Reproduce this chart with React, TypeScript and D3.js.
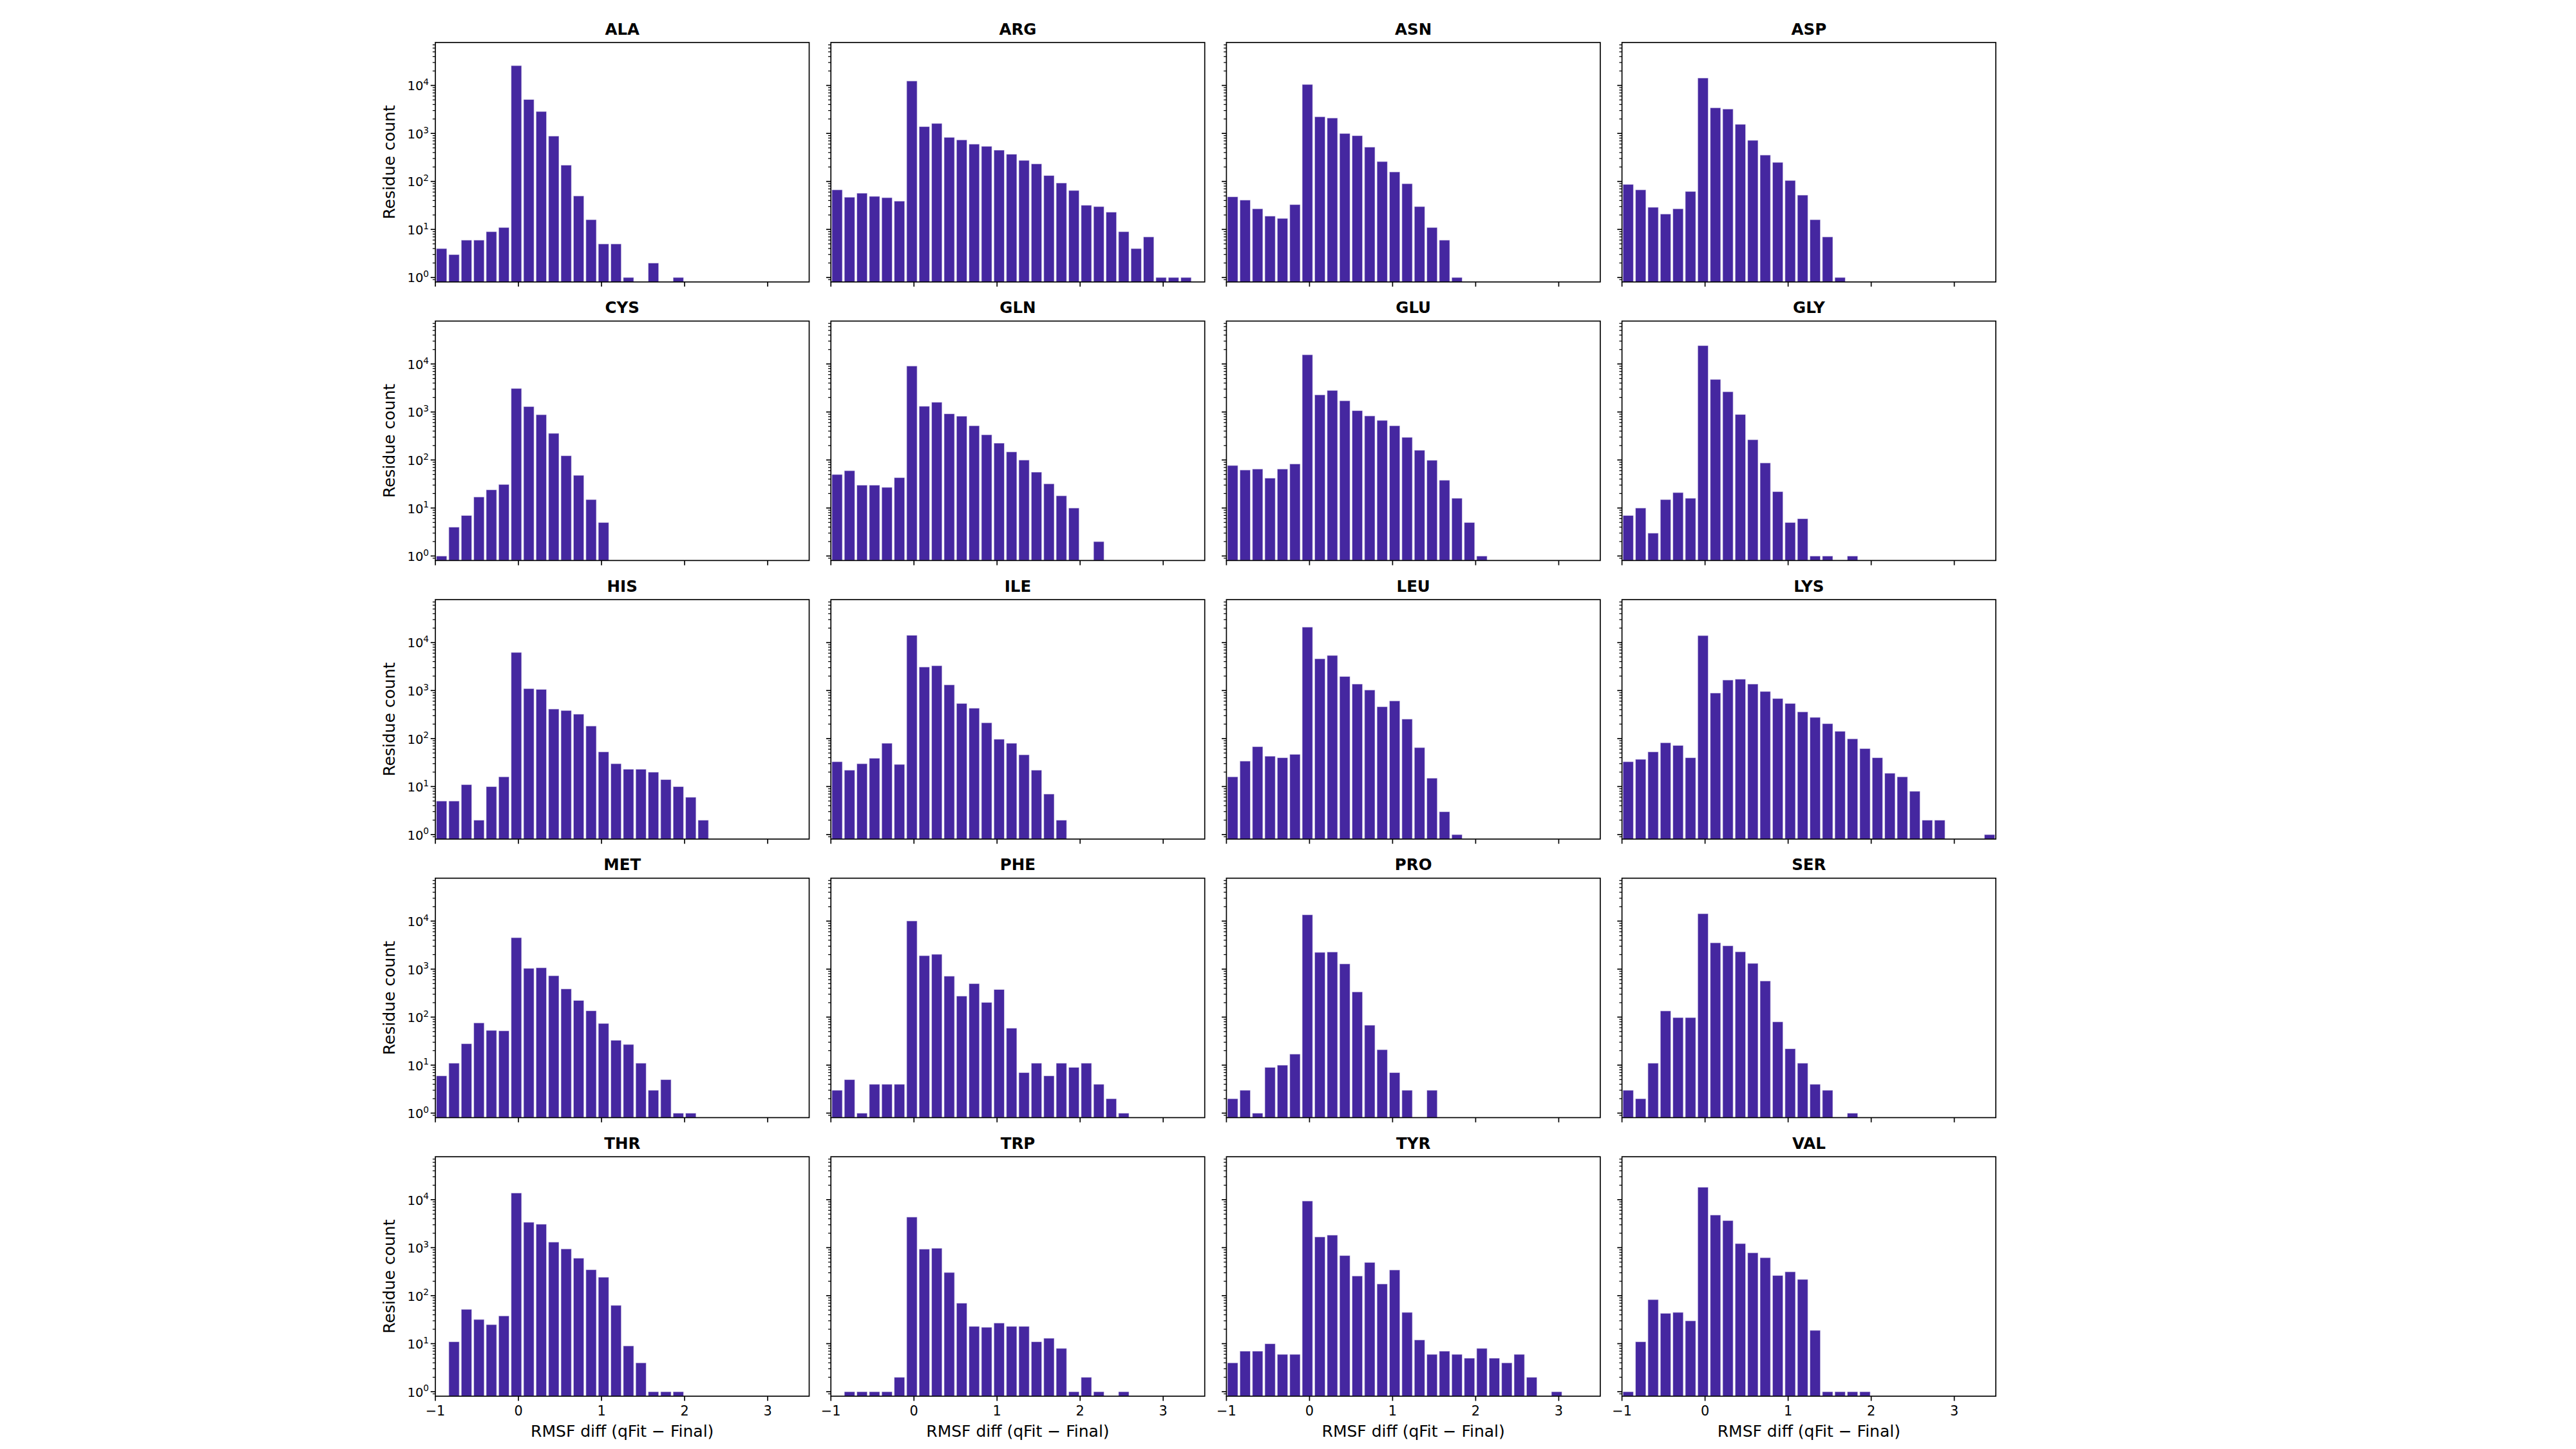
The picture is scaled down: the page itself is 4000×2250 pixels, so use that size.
import * as d3 from 'd3'

// Histogram of RMSF differences per residue type (30 bins, width 0.15, from -1 to 3.5)
const residues = ['ALA', 'ARG', 'ASN', 'ASP', 'CYS', 'GLN', 'GLU', 'GLY', 'HIS', 'ILE',
  'LEU', 'LYS', 'MET', 'PHE', 'PRO', 'SER', 'THR', 'TRP', 'TYR', 'VAL']

const binLefts = [-1, -0.85, -0.7, -0.55, -0.4, -0.25, -0.1, 0.05, 0.2, 0.35,
  0.5, 0.65, 0.8, 0.95, 1.1, 1.25, 1.4, 1.55, 1.7, 1.85,
  2, 2.15, 2.3, 2.45, 2.6, 2.75, 2.9, 3.05, 3.2, 3.35]
const binWidth = 0.15

const ala = [4, 3, 6, 6, 9, 11, 25900, 5100, 2870, 883, 219, 50, 16, 5, 5, 1, 0, 2, 0, 1, 0, 0, 0, 0, 0, 0, 0, 0, 0, 0]
const arg = [67, 47, 57, 49, 46, 39, 12400, 1390, 1620, 830, 735, 600, 540, 450, 370, 275, 233, 133, 93, 65, 32, 30, 23, 9, 4, 7, 1, 1, 1, 0]
const asn = [48, 41, 27, 19, 17, 33, 10500, 2230, 2100, 1000, 900, 520, 260, 158, 90, 30, 11, 6, 1, 0, 0, 0, 0, 0, 0, 0, 0, 0, 0, 0]
const asp = [87, 67, 29, 21, 27, 62, 14300, 3430, 3230, 1550, 720, 355, 250, 105, 52, 16, 7, 1, 0, 0, 0, 0, 0, 0, 0, 0, 0, 0, 0, 0]
const cys = [1, 4, 7, 17, 24, 31, 3100, 1300, 880, 360, 123, 48, 15, 5, 0, 0, 0, 0, 0, 0, 0, 0, 0, 0, 0, 0, 0, 0, 0, 0]
const gln = [50, 60, 30, 30, 27, 43, 9100, 1320, 1600, 920, 820, 518, 336, 225, 148, 100, 56, 32, 18, 10, 0, 2, 0, 0, 0, 0, 0, 0, 0, 0]
const glu = [77, 62, 65, 42, 65, 83, 15600, 2280, 2820, 1720, 1070, 830, 670, 518, 297, 160, 99, 38, 16, 5, 1, 0, 0, 0, 0, 0, 0, 0, 0, 0]
const gly = [7, 10, 3, 15, 21, 16, 24200, 4780, 2650, 890, 265, 87, 22, 5, 6, 1, 1, 0, 1, 0, 0, 0, 0, 0, 0, 0, 0, 0, 0, 0]
const his = [5, 5, 11, 2, 10, 16, 6240, 1100, 1060, 413, 385, 323, 183, 53, 30, 23, 23, 20, 14, 10, 6, 2, 0, 0, 0, 0, 0, 0, 0, 0]
const ile = [33, 22, 30, 39, 80, 29, 14200, 3100, 3300, 1320, 540, 430, 214, 97, 80, 46, 22, 7, 2, 0, 0, 0, 0, 0, 0, 0, 0, 0, 0, 0]
const leu = [16, 34, 68, 43, 40, 47, 21000, 4600, 5400, 1970, 1370, 1030, 462, 611, 255, 65, 15, 3, 1, 0, 0, 0, 0, 0, 0, 0, 0, 0, 0, 0]
const lys = [33, 37, 53, 82, 72, 40, 14000, 890, 1660, 1730, 1370, 960, 684, 540, 361, 277, 205, 142, 99, 62, 40, 19, 16, 8, 2, 2, 0, 0, 0, 1]
const met = [6, 11, 28, 76, 53, 52, 4530, 1040, 1070, 730, 388, 223, 136, 74, 33, 27, 11, 3, 5, 1, 1, 0, 0, 0, 0, 0, 0, 0, 0, 0]
const phe = [3, 5, 1, 4, 4, 4, 10100, 1910, 2040, 715, 275, 500, 203, 377, 59, 7, 11, 6, 11, 9, 11, 4, 2, 1, 0, 0, 0, 0, 0, 0]
const pro = [2, 3, 1, 9, 10, 17, 13600, 2240, 2280, 1290, 336, 68, 21, 7, 3, 0, 3, 0, 0, 0, 0, 0, 0, 0, 0, 0, 0, 0, 0, 0]
const ser = [3, 2, 11, 135, 98, 98, 14300, 3540, 3070, 2300, 1320, 568, 80, 22, 11, 4, 3, 0, 1, 0, 0, 0, 0, 0, 0, 0, 0, 0, 0, 0]
const thr = [0, 11, 52, 32, 25, 38, 13800, 3390, 3090, 1310, 945, 605, 348, 243, 63, 9, 4, 1, 1, 1, 0, 0, 0, 0, 0, 0, 0, 0, 0, 0]
const trp = [0, 1, 1, 1, 1, 2, 4350, 935, 975, 305, 70, 23, 22, 27, 23, 23, 11, 13, 8, 1, 2, 1, 0, 1, 0, 0, 0, 0, 0, 0]
const tyr = [4, 7, 7, 10, 6, 6, 9400, 1680, 1830, 687, 258, 494, 176, 344, 45, 12, 6, 7, 6, 5, 8, 5, 4, 6, 2, 0, 1, 0, 0, 0]
const val = [1, 11, 83, 43, 45, 30, 18200, 4800, 3680, 1220, 785, 620, 264, 315, 219, 19, 1, 1, 1, 1, 0, 0, 0, 0, 0, 0, 0, 0, 0, 0]

const counts = [ala, arg, asn, asp, cys, gln, glu, gly, his, ile, leu, lys, met, phe, pro, ser, thr, trp, tyr, val]

const xTicks = [-1, 0, 1, 2, 3]
const yMajorExp = [0, 1, 2, 3, 4]

const FONT = 'DejaVu Sans, sans-serif'
const BAR = '#4527a0'

export default function App() {
  const W = 4000
  const H = 2250
  const left0 = 676
  const colPitch = 614.2
  const top0 = 66
  const rowPitch = 432.55
  const pw = 580.5
  const ph = 371.8
  const nCols = 4
  const nRows = 5

  const x = d3.scaleLinear().domain([-1, 3.5]).range([0, pw])
  const y = d3.scaleLog().domain([Math.pow(10, -0.094), Math.pow(10, 4.894)]).range([ph, 0])
  const [ylo, yhi] = y.domain()
  const minor = y.ticks(10).filter(v => v >= ylo && v <= yhi && Math.abs(Math.log10(v) - Math.round(Math.log10(v))) > 1e-6)

  return (
    <svg width={W} height={H} viewBox={`0 0 ${W} ${H}`}
      style={{ position: 'absolute', left: 0, top: 0, background: '#fff' }}
      fontFamily={FONT}>
      <rect width={W} height={H} fill="#fff" />
      {residues.map((name, i) => {
        const c = i % nCols
        const r = Math.floor(i / nCols)
        const tx = left0 + c * colPitch
        const ty = top0 + r * rowPitch
        const data = counts[i]
        return (
          <g key={name} transform={`translate(${tx},${ty})`}>
            <text x={pw / 2} y={-12.5} textAnchor="middle" fontSize={24.5} fontWeight="bold">{name}</text>
            {data.map((v, j) => v > 0 ? (
              <rect key={j}
                x={x(binLefts[j]) + 1.5}
                y={y(v)}
                width={x(binLefts[j] + binWidth) - x(binLefts[j]) - 3}
                height={ph - y(v)}
                fill={BAR}
                stroke="#fff" strokeOpacity={0.55} strokeWidth={1.2} />
            ) : null)}
            {/* y ticks */}
            {minor.map(v => (
              <line key={'m' + v} x1={-4.2} x2={0} y1={y(v)} y2={y(v)} stroke="#000" strokeWidth={1.25} />
            ))}
            {yMajorExp.map(e => (
              <line key={'M' + e} x1={-7.3} x2={0} y1={y(Math.pow(10, e))} y2={y(Math.pow(10, e))} stroke="#000" strokeWidth={1.67} />
            ))}
            {c === 0 && yMajorExp.map(e => (
              <text key={'L' + e} x={-10} y={y(Math.pow(10, e)) + 7.7} textAnchor="end" fontSize={19.5}>
                10<tspan fontSize={13.6} dy={-8.3}>{e}</tspan>
              </text>
            ))}
            {c === 0 && (
              <text transform={`translate(${-63},${ph / 2}) rotate(-90)`} textAnchor="middle" fontSize={25}>Residue count</text>
            )}
            {/* x ticks */}
            {xTicks.map(t => (
              <line key={'x' + t} x1={x(t)} x2={x(t)} y1={ph} y2={ph + 7.3} stroke="#000" strokeWidth={1.67} />
            ))}
            {r === nRows - 1 && xTicks.map(t => (
              <text key={'xl' + t} x={x(t)} y={ph + 30.5} textAnchor="middle" fontSize={20.8}>
                {t < 0 ? `\u2212${-t}` : `${t}`}
              </text>
            ))}
            {r === nRows - 1 && (
              <text x={pw / 2} y={ph + 63.5} textAnchor="middle" fontSize={25}>RMSF diff (qFit − Final)</text>
            )}
            <rect x={0} y={0} width={pw} height={ph} fill="none" stroke="#000" strokeWidth={1.67} />
          </g>
        )
      })}
    </svg>
  )
}
